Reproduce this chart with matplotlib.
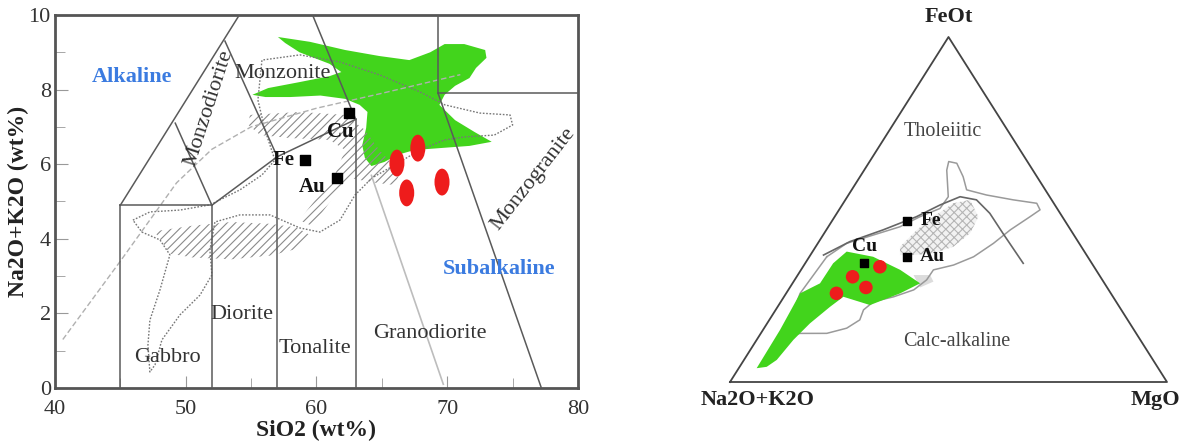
import numpy as np
import matplotlib
matplotlib.use("Agg")
import matplotlib.pyplot as plt
from matplotlib.patches import Polygon, Ellipse

plt.rcParams['font.family'] = ['Liberation Serif', 'DejaVu Serif']
plt.rcParams['hatch.linewidth'] = 0.8

# ---------------- TAS (left) data ----------------
# field boundaries, (SiO2, Na2O+K2O)
tas_lines = [
    [(45, 0), (45, 4.9)],
    [(52, 0), (52, 4.9)],
    [(45, 4.9), (52, 4.9)],
    [(45, 4.9), (54.1, 10)],
    [(49.2, 7.1), (52, 4.9)],
    [(52, 4.9), (57, 6.2)],
    [(57, 0), (57, 6.2)],
    [(57, 6.2), (53.0, 9.3)],
    [(57, 6.2), (63, 7.2)],
    [(59.7, 10), (63, 7.2)],
    [(63, 0), (63, 7.2)],
    [(69.3, 10), (69.3, 7.9)],
    [(69.3, 7.9), (80, 7.9)],
    [(69.3, 7.9), (77.2, 0)],
]
alk_x = [40.6, 45.0, 49.3, 52.0, 55.0, 60.0, 65.0, 71.0]
alk_y = [1.3, 3.4, 5.5, 6.4, 7.0, 7.5, 7.9, 8.4]
grey_x = [64.2, 69.7]
grey_y = [5.7, 0.1]

green_x = [57.05, 59.5, 62.2, 64.8, 67.1, 68.7, 69.8, 71.3, 72.9, 73.0, 72.2, 71.7, 70.6,
           69.8, 69.4, 70.6, 72.1, 73.4, 71.7, 69.4, 67.5, 66.2, 65.2, 64.2, 63.7, 63.5,
           63.8, 63.9, 63.3, 62.2, 60.3, 58.0, 56.1, 55.1, 56.3, 58.7, 61.0, 61.9, 61.0,
           58.7, 57.6]
green_y = [9.41, 9.28, 9.06, 8.9, 8.79, 9.0, 9.22, 9.22, 9.06, 8.85, 8.58, 8.31, 8.1,
           7.86, 7.59, 7.18, 6.86, 6.6, 6.49, 6.43, 6.38, 6.25, 6.06, 5.95, 6.17, 6.51,
           6.97, 7.4, 7.59, 7.75, 7.84, 7.8, 7.8, 7.86, 8.04, 8.2, 8.36, 8.47, 8.69,
           9.0, 9.25]

hatch_up_x = [54.9, 58.7, 62.2, 63.7, 64.8, 66.4, 66.0, 64.1, 62.6, 61.4, 60.3, 59.5,
              58.7, 59.9, 61.4, 62.2, 61.0, 58.0, 55.7, 54.8]
hatch_up_y = [7.32, 7.4, 7.32, 6.92, 6.38, 5.79, 5.44, 5.52, 5.63, 5.17, 4.64, 4.37,
              4.5, 5.04, 5.71, 6.38, 6.65, 6.7, 6.78, 7.05]
hatch_lo_x = [47.6, 50.5, 53.5, 56.5, 58.5, 59.5, 58.7, 56.5, 53.5, 50.5, 48.8, 48.3]
hatch_lo_y = [4.2, 4.35, 4.45, 4.4, 4.3, 4.1, 3.75, 3.55, 3.45, 3.5, 3.6, 3.85]

outline_x = [45.96, 47.26, 49.56, 51.85, 54.14, 55.83, 56.82, 56.06, 55.52, 55.83, 58.73,
             61.79, 64.85, 67.9, 69.82, 72.5, 74.8, 75.0, 73.6, 71.3, 69.8, 67.9, 65.99,
             64.24, 62.94, 61.79, 60.26, 58.73, 56.44, 54.14, 52.23, 51.85, 52.0, 51.09,
             49.56, 48.18, 47.65, 47.26, 47.11, 47.26, 48.03, 48.79, 48.03, 46.65, 45.96]
outline_y = [4.5, 4.72, 4.77, 4.91, 5.31, 5.71, 6.11, 6.92, 7.72, 8.79, 8.93,
             8.74, 8.39, 7.94, 7.59, 7.37, 7.32, 7.05, 6.78, 6.73, 6.65, 6.38, 5.98,
             5.63, 5.17, 4.5, 4.18, 4.29, 4.64, 4.64, 4.45, 3.7, 3.03, 2.49,
             1.96, 1.29, 0.62, 0.43, 1.15, 1.82, 2.63, 3.57, 3.97, 4.18, 4.5]

red_x = [67.75, 66.15, 66.9, 69.6]
red_y = [6.43, 6.03, 5.23, 5.52]
dep_names = ['Cu', 'Fe', 'Au']
dep_sio2 = [62.5, 59.1, 61.56]
dep_alk = [7.37, 6.11, 5.63]

field_names = ['Gabbro', 'Diorite', 'Tonalite', 'Granodiorite', 'Monzonite',
               'Monzodiorite', 'Monzogranite']
field_x = [48.6, 54.3, 59.9, 68.7, 57.4, 51.8, 76.6]
field_y = [0.83, 1.96, 1.07, 1.47, 8.42, 7.5, 5.6]
field_rot = [0, 0, 0, 0, 0, 72, 52]

# ---------------- AFM (right) data: A, F, M fractions ----------------
afm_green = np.array([
    [0.919, 0.040, 0.041], [0.810, 0.151, 0.039], [0.711, 0.257, 0.032],
    [0.651, 0.286, 0.063], [0.592, 0.344, 0.064], [0.544, 0.378, 0.078],
    [0.491, 0.363, 0.146], [0.448, 0.325, 0.227], [0.422, 0.286, 0.292],
    [0.482, 0.257, 0.261], [0.568, 0.223, 0.209], [0.617, 0.247, 0.136],
    [0.662, 0.218, 0.120], [0.732, 0.170, 0.098], [0.794, 0.122, 0.084],
    [0.861, 0.064, 0.075], [0.894, 0.044, 0.062]])
afm_outline = np.array([
    [0.597, 0.363, 0.040], [0.532, 0.402, 0.066], [0.459, 0.426, 0.115],
    [0.386, 0.450, 0.164], [0.326, 0.479, 0.195], [0.268, 0.503, 0.229],
    [0.232, 0.537, 0.231], [0.197, 0.614, 0.189], [0.180, 0.639, 0.181],
    [0.164, 0.634, 0.202], [0.169, 0.595, 0.236], [0.180, 0.557, 0.263],
    [0.142, 0.542, 0.316], [0.088, 0.528, 0.384], [0.039, 0.518, 0.443],
    [0.041, 0.499, 0.460], [0.074, 0.479, 0.447], [0.138, 0.441, 0.421],
    [0.196, 0.402, 0.402], [0.261, 0.363, 0.376], [0.319, 0.339, 0.342],
    [0.372, 0.325, 0.303], [0.402, 0.296, 0.302], [0.446, 0.267, 0.287],
    [0.502, 0.247, 0.251], [0.555, 0.233, 0.212], [0.590, 0.209, 0.201],
    [0.613, 0.180, 0.207], [0.655, 0.156, 0.189], [0.708, 0.141, 0.151],
    [0.770, 0.141, 0.090], [0.812, 0.131, 0.057], [0.711, 0.257, 0.032],
    [0.597, 0.363, 0.040]])
afm_divide = np.array([
    [0.602, 0.368, 0.030], [0.522, 0.407, 0.071], [0.429, 0.441, 0.130],
    [0.334, 0.479, 0.187], [0.263, 0.513, 0.224], [0.205, 0.537, 0.258],
    [0.172, 0.528, 0.300], [0.161, 0.489, 0.350], [0.160, 0.431, 0.409],
    [0.157, 0.344, 0.499]])
afm_hatch = np.array([
    [0.415, 0.392, 0.193], [0.352, 0.441, 0.207], [0.295, 0.479, 0.226],
    [0.230, 0.518, 0.252], [0.187, 0.528, 0.285], [0.192, 0.479, 0.329],
    [0.235, 0.431, 0.334], [0.293, 0.392, 0.315], [0.348, 0.373, 0.279],
    [0.396, 0.368, 0.236], [0.427, 0.368, 0.205]])
afm_blob = np.array([
    [0.425, 0.310, 0.265], [0.387, 0.310, 0.303], [0.389, 0.291, 0.320],
    [0.428, 0.274, 0.298]])
afm_red = np.array([
    [0.490, 0.334, 0.176], [0.567, 0.305, 0.128], [0.552, 0.274, 0.174],
    [0.628, 0.257, 0.115]])
afm_dep = np.array([
    [0.521, 0.344, 0.135],   # Cu
    [0.361, 0.467, 0.172],   # Fe
    [0.413, 0.363, 0.224]])  # Au


def tern(arr):
    arr = np.asarray(arr, dtype=float)
    s = arr.sum(axis=1)
    f = arr[:, 1] / s
    m = arr[:, 2] / s
    return np.column_stack([m + 0.5 * f, f])


fig = plt.figure(figsize=(11.82, 4.43), dpi=100)
ax = fig.add_axes([0.0465, 0.1242, 0.4425, 0.842])
line_c = '#5a5a5a'
text_c = '#333333'

ax.add_patch(Polygon(np.column_stack([green_x, green_y]), closed=True,
                     facecolor='#42d41c', edgecolor='none', zorder=2))
ax.add_patch(Polygon(np.column_stack([hatch_up_x, hatch_up_y]), closed=True,
                     facecolor='none', edgecolor='#8a8a8a', hatch='////', lw=0, zorder=3))
ax.add_patch(Polygon(np.column_stack([hatch_lo_x, hatch_lo_y]), closed=True,
                     facecolor='none', edgecolor='#8a8a8a', hatch='////', lw=0, zorder=3))
ax.plot(outline_x, outline_y, color='#777777', lw=1, ls=(0, (1.2, 1.2)), zorder=3)
ax.plot(alk_x, alk_y, color='#b0b0b0', lw=1, ls=(0, (4, 2)), zorder=3)
ax.plot(grey_x, grey_y, color='#bdbdbd', lw=1.2, zorder=3)
for seg in tas_lines:
    xs, ys = zip(*seg)
    ax.plot(xs, ys, color=line_c, lw=1.1, zorder=4)

for cx, cy in zip(red_x, red_y):
    ax.add_patch(Ellipse((cx, cy), 1.15, 0.72, facecolor='#ee1c1c', edgecolor='none', zorder=5))
ax.scatter(dep_sio2, dep_alk, marker='s', s=45, color='black', zorder=6)
lab_off = {'Cu': (-0.7, -0.5), 'Fe': (-1.6, 0.0), 'Au': (-1.9, -0.25)}
for n, sx, sy in zip(dep_names, dep_sio2, dep_alk):
    dx, dy = lab_off[n]
    ax.text(sx + dx, sy + dy, n, fontsize=15, fontweight='bold', ha='center', va='center',
            color='#111111', zorder=6)

for n, fx, fy, r in zip(field_names, field_x, field_y, field_rot):
    ax.text(fx, fy, n, fontsize=16, color=text_c, ha='center', va='center', rotation=r,
            zorder=6)
ax.text(45.9, 8.34, 'Alkaline', fontsize=16, fontweight='bold', color='#3b7be0',
        ha='center', va='center', zorder=6)
ax.text(74.0, 3.2, 'Subalkaline', fontsize=16, fontweight='bold', color='#3b7be0',
        ha='center', va='center', zorder=6)

ax.set_xlim(40, 80)
ax.set_ylim(0, 10)
ax.set_xticks([40, 50, 60, 70, 80])
ax.set_xticks([45, 55, 65, 75], minor=True)
ax.set_yticks([0, 2, 4, 6, 8, 10])
ax.set_yticks([1, 3, 5, 7, 9], minor=True)
ax.tick_params(which='both', direction='in', color='#999999', labelsize=16,
               labelcolor=text_c)
ax.tick_params(axis='x', pad=9)
ax.tick_params(axis='y', pad=3)
ax.tick_params(which='major', length=9)
ax.tick_params(which='minor', length=7)
for sp in ax.spines.values():
    sp.set_color('#555555')
    sp.set_linewidth(2)
ax.set_xlabel('SiO2 (wt%)', fontsize=17, fontweight='bold', labelpad=0, color='#222222')
ax.set_ylabel('Na2O+K2O (wt%)', fontsize=17, fontweight='bold', labelpad=0, color='#222222')

# ---------------- AFM ternary ----------------
bx = fig.add_axes([0.6176, 0.1377, 0.3697, 0.7788])
bx.set_xlim(0, 1)
bx.set_ylim(0, 1)
bx.axis('off')
tri = np.array([[0, 0], [1, 0], [0.5, 1], [0, 0]])
bx.plot(tri[:, 0], tri[:, 1], color='#444444', lw=1.3, clip_on=False, zorder=4)

bx.add_patch(Polygon(tern(afm_hatch), closed=True, facecolor='#f2f2f2',
                     edgecolor='#b5b5b5', hatch='xxxx', lw=0, zorder=1))
bx.add_patch(Polygon(tern(afm_blob), closed=True, facecolor='#dcdcdc',
                     edgecolor='none', zorder=1))
o = tern(afm_outline)
bx.plot(o[:, 0], o[:, 1], color='#9a9a9a', lw=1.1, zorder=2)
bx.add_patch(Polygon(tern(afm_green), closed=True, facecolor='#42d41c',
                     edgecolor='none', zorder=3))
d = tern(afm_divide)
bx.plot(d[:, 0], d[:, 1], color='#666666', lw=1.2, zorder=3)

r = tern(afm_red)
bx.scatter(r[:, 0], r[:, 1], s=95, color='#ee1c1c', edgecolor='none', zorder=5)
p = tern(afm_dep)
bx.scatter(p[:, 0], p[:, 1], marker='s', s=35, color='black', zorder=6)
bx.text(p[0, 0], p[0, 1] + 0.05, 'Cu', fontsize=14, fontweight='bold', ha='center',
        va='center', color='#111111', zorder=6)
bx.text(p[1, 0] + 0.03, p[1, 1], 'Fe', fontsize=14, fontweight='bold', ha='left',
        va='center', color='#111111', zorder=6)
bx.text(p[2, 0] + 0.03, p[2, 1], 'Au', fontsize=14, fontweight='bold', ha='left',
        va='center', color='#111111', zorder=6)

bx.text(0.5, 1.03, 'FeOt', fontsize=16, fontweight='bold', ha='center', va='bottom',
        color='#222222')
bx.text(0.064, -0.052, 'Na2O+K2O', fontsize=16, fontweight='bold', ha='center',
        va='center', color='#222222')
bx.text(0.973, -0.052, 'MgO', fontsize=16, fontweight='bold', ha='center',
        va='center', color='#222222')
bx.text(0.487, 0.725, 'Tholeiitic', fontsize=14.5, ha='center', va='center', color='#444444')
bx.text(0.519, 0.116, 'Calc-alkaline', fontsize=14.5, ha='center', va='center',
        color='#444444')

fig.savefig('out.png', dpi=100)
